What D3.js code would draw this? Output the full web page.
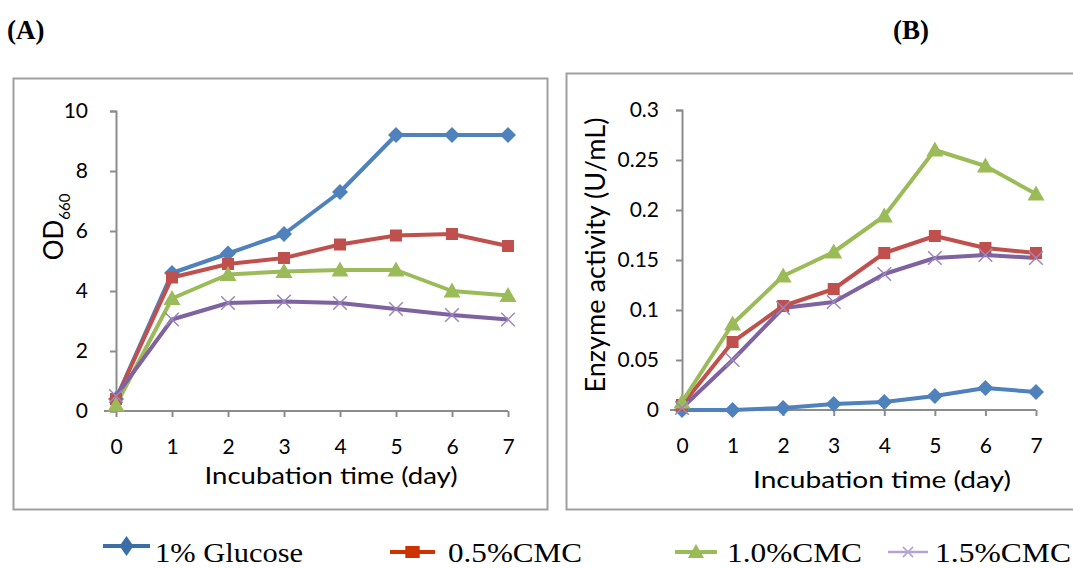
<!DOCTYPE html>
<html><head><meta charset="utf-8">
<script src="https://cdn.jsdelivr.net/npm/d3@7"></script>
<style>body{margin:0;background:#fff}svg{display:block}</style>
</head><body>
<svg id="c" width="1073" height="568"></svg>
<script>
const days = [0,1,2,3,4,5,6,7];
const seriesNames = ["1% Glucose","0.5%CMC","1.0%CMC","1.5%CMC"];
// Panel A: OD660
const odGlucose = [0.4,4.6,5.25,5.9,7.3,9.2,9.2,9.2];
const odCMC05   = [0.4,4.45,4.9,5.1,5.55,5.85,5.9,5.5];
const odCMC10   = [0.2,3.75,4.55,4.65,4.7,4.7,4.0,3.85];
const odCMC15   = [0.5,3.05,3.6,3.65,3.6,3.4,3.2,3.05];
// Panel B: enzyme activity
const enGlucose = [0,0,0.002,0.006,0.008,0.014,0.022,0.018];
const enCMC05   = [0.005,0.068,0.104,0.121,0.157,0.174,0.162,0.157];
const enCMC10   = [0.008,0.086,0.134,0.158,0.194,0.26,0.244,0.216];
const enCMC15   = [0.002,0.05,0.102,0.108,0.136,0.152,0.155,0.152];
const odTicks = [0,2,4,6,8,10];
const enTicks = [0,0.05,0.1,0.15,0.2,0.25,0.3];
const enTickLabels = ["0","0.05","0.1","0.15","0.2","0.25","0.3"];

const colors = ["#4F81BD","#C0504D","#9BBB59","#7F62A0"];
const legendColors = ["#3A6EA8","#CC3300","#9BBB59","#B3A2D6"];
const shapes = ["diamond","square","triangle","x"];

const svg = d3.select("#c");
const FONT = "Lato, 'Open Sans', sans-serif";
const axisColor = "#8C8C8C";

// frames
svg.append("rect").attr("x",13.5).attr("y",78.5).attr("width",534).attr("height",431)
  .attr("fill","none").attr("stroke","#A0A0A0").attr("stroke-width",2);
svg.append("rect").attr("x",566.5).attr("y",73.5).attr("width",520).attr("height",436)
  .attr("fill","none").attr("stroke","#A0A0A0").attr("stroke-width",2);

// panel titles
svg.append("text").attr("x",7).attr("y",39).text("(A)")
  .attr("font-family","'Liberation Serif', serif").attr("font-weight","bold").attr("font-size",27);
svg.append("text").attr("x",893).attr("y",39).text("(B)")
  .attr("font-family","'Liberation Serif', serif").attr("font-weight","bold").attr("font-size",27);

function marker(g, shape, cx, cy, color, s, sy){
  sy = sy || s;
  if(shape==="diamond"){
    g.append("path").attr("d",`M${cx},${cy-sy}L${cx+s},${cy}L${cx},${cy+sy}L${cx-s},${cy}Z`).attr("fill",color);
  } else if(shape==="square"){
    g.append("rect").attr("x",cx-s*0.8).attr("y",cy-sy*0.8).attr("width",s*1.6).attr("height",sy*1.6).attr("fill",color);
  } else if(shape==="triangle"){
    g.append("path").attr("d",`M${cx},${cy-sy}L${cx+s},${cy+sy*0.75}L${cx-s},${cy+sy*0.75}Z`).attr("fill",color);
  } else {
    const d = s*0.85, e = sy*0.85;
    g.append("path").attr("d",`M${cx-d},${cy-e}L${cx+d},${cy+e}M${cx-d},${cy+e}L${cx+d},${cy-e}`)
      .attr("stroke",color).attr("stroke-width",1.5).attr("fill","none");
  }
}

function panel(cfg){
  const x = d3.scaleLinear().domain([0,7]).range([cfg.x0,cfg.x1]);
  const y = d3.scaleLinear().domain(cfg.yDomain).range([cfg.y0,cfg.y1]);
  const g = svg.append("g");
  const ya = g.append("g").attr("transform",`translate(${cfg.x0},0)`)
    .call(d3.axisLeft(y).tickValues(cfg.yTicks).tickSize(6).tickPadding(cfg.yPad).tickFormat((d,i)=>cfg.yLabels[i]));
  const xa = g.append("g").attr("transform",`translate(0,${cfg.y0})`)
    .call(d3.axisBottom(x).tickValues(days).tickSize(6).tickPadding(20).tickFormat(d3.format("d")));
  [ya,xa].forEach(a=>{
    a.select(".domain").attr("stroke",axisColor).attr("stroke-width",2);
    a.selectAll(".tick line").attr("stroke",axisColor).attr("stroke-width",2);
    a.selectAll("text").attr("font-family",FONT).attr("font-size",21).attr("fill","#000");
  });
  xa.select(".domain").attr("d",`M${cfg.x0-12},0H${cfg.x1}`);
  xa.selectAll(".tick text").attr("dy","0.35em").attr("y",36);
  const line = d3.line().x((d,i)=>x(days[i])).y(d=>y(d));
  cfg.series.forEach((s,k)=>{
    g.append("path").datum(s).attr("d",line).attr("fill","none")
      .attr("stroke",colors[k]).attr("stroke-width",4).attr("stroke-linejoin","round");
  });
  cfg.series.forEach((s,k)=>{
    const mg = g.append("g");
    const mc = k===3 ? "#9B86BD" : colors[k];
    s.forEach((v,i)=>marker(mg, shapes[k], x(days[i]), y(v), mc, k===0?8:(k===1?7.5:(k===2?8.5:8))));
  });
  g.append("text").attr("x",cfg.xTitleX).attr("y",cfg.xTitleY).attr("text-anchor","middle")
    .attr("font-family",FONT).attr("font-size",24)
    .attr("textLength",cfg.xTitleW).attr("lengthAdjust","spacingAndGlyphs").text("Incubation time (day)");
  return g;
}

const gA = panel({x0:116,x1:508,y0:411,y1:111,yDomain:[0,10],yTicks:odTicks,yLabels:odTicks.map(String),yPad:22,
  series:[odGlucose,odCMC05,odCMC10,odCMC15], xTitleX:331, xTitleY:484, xTitleW:253});
const odl = gA.append("text").attr("transform","translate(63,227) rotate(-90)").attr("text-anchor","middle")
  .attr("font-family",FONT).attr("font-size",26);
odl.append("tspan").text("OD");
odl.append("tspan").attr("font-size",15).attr("dy",7).text("660");

const gB = panel({x0:682,x1:1036,y0:410,y1:110,yDomain:[0,0.3],yTicks:enTicks,yLabels:enTickLabels,yPad:17,
  series:[enGlucose,enCMC05,enCMC10,enCMC15], xTitleX:882, xTitleY:488, xTitleW:258});
gB.append("text").attr("transform","translate(605,255) rotate(-90)").attr("text-anchor","middle")
  .attr("font-family",FONT).attr("font-size",26)
  .attr("textLength",275).attr("lengthAdjust","spacingAndGlyphs").text("Enzyme activity (U/mL)");

// legend
const legendX = [103,390,675,888];
const legendLineW = [47,45,42,40];
const legendTextX = [155,448,727,935];
const legendTextW = [148,134,135,136];
const legendLineY = [546,552,552,552];
const lg = svg.append("g");
seriesNames.forEach((n,k)=>{
  const cy = legendLineY[k];
  lg.append("line").attr("x1",legendX[k]).attr("x2",legendX[k]+legendLineW[k]).attr("y1",cy).attr("y2",cy)
    .attr("stroke",legendColors[k]).attr("stroke-width",k===3?2.5:4);
  const sz = [[7,10],[9,7.5],[8,8],[6,6]][k];
  marker(lg, shapes[k], legendX[k]+legendLineW[k]/2, cy, legendColors[k], sz[0], sz[1]);
  lg.append("text").attr("x",legendTextX[k]).attr("y",562).text(n)
    .attr("font-family","'Liberation Serif', serif").attr("font-size",27).attr("fill","#000")
    .attr("textLength",legendTextW[k]).attr("lengthAdjust","spacingAndGlyphs");
});
</script>
</body></html>
